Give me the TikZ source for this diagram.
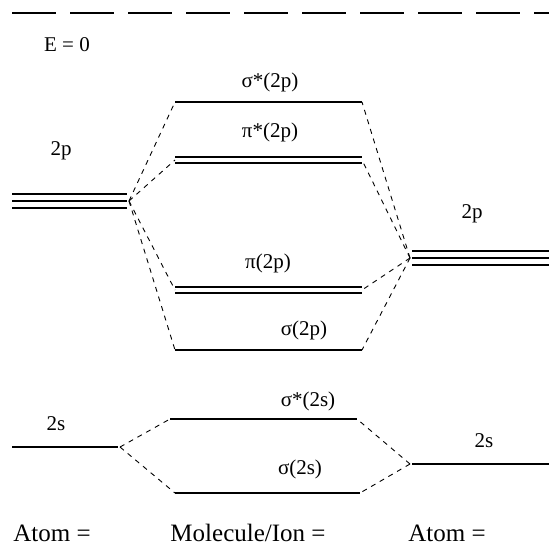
\documentclass[tikz,border=0pt]{standalone}
\usepackage{fontspec}
\setmainfont{Liberation Serif}
\usetikzlibrary{calc}

\begin{document}
\begin{tikzpicture}[x=1pt, y=-1pt, semithick]

%====Stili=====================================================================

	\tikzstyle{orbital}=[line width=1.6pt]
	\tikzstyle{corr}=[line width=0.9pt, dash pattern=on 5pt off 5pt]
	\tikzstyle{zero}=[line width=1.8pt, dash pattern=on 44pt off 14pt]
	\tikzstyle{lab}=[inner sep=0pt, font=\fontsize{21}{25}\selectfont]
	\tikzstyle{foot}=[inner sep=0pt, font=\fontsize{25}{30}\selectfont]

	\useasboundingbox (0,0) rectangle (549,550);

%====Estremi dei livelli========================================================

	\coordinate (E0L) at (12,13);   \coordinate (E0R) at (549,13);
	% atomo sinistro
	\coordinate (A2pL) at (12,201);  \coordinate (A2pR) at (127,201);  \coordinate (A2pH) at (129,201);
	\coordinate (A2sL) at (12,447);  \coordinate (A2sR) at (118,447);  \coordinate (A2sH) at (120,447);
	% atomo destro
	\coordinate (B2pL) at (412,258); \coordinate (B2pR) at (549,258);  \coordinate (B2pH) at (410,258);
	\coordinate (B2sL) at (412,464); \coordinate (B2sR) at (549,464);  \coordinate (B2sH) at (410,464);
	% molecola
	\coordinate (SxpL) at (175,102); \coordinate (SxpR) at (362,102);
	\coordinate (PxpL) at (175,160); \coordinate (PxpR) at (362,160);
	\coordinate (PpL)  at (175,290); \coordinate (PpR)  at (362,290);
	\coordinate (SpL)  at (175,350); \coordinate (SpR)  at (362,350);
	\coordinate (SxsL) at (170,419); \coordinate (SxsR) at (357,419);
	\coordinate (SsL)  at (175,493); \coordinate (SsR)  at (360,493);

%====Livelli====================================================================

	\draw[zero] (E0L) -- (E0R);
	\foreach \d in {-7,0,7} {
		\draw[orbital] ($(A2pL)+(0,\d)$) -- ($(A2pR)+(0,\d)$);
		\draw[orbital] ($(B2pL)+(0,\d)$) -- ($(B2pR)+(0,\d)$);
	}
	\foreach \d in {-3,3} {
		\draw[orbital] ($(PxpL)+(0,\d)$) -- ($(PxpR)+(0,\d)$);
		\draw[orbital] ($(PpL)+(0,\d)$) -- ($(PpR)+(0,\d)$);
	}
	\draw[orbital] (SxpL) -- (SxpR);
	\draw[orbital] (SpL) -- (SpR);
	\draw[orbital] (SxsL) -- (SxsR);
	\draw[orbital] (SsL) -- (SsR);
	\draw[orbital] (A2sL) -- (A2sR);
	\draw[orbital] (B2sL) -- (B2sR);

%====Collegamenti===============================================================

	\foreach \m in {SxpL, PxpL, PpL, SpL}  \draw[corr] (A2pH) -- (\m);
	\foreach \m in {SxpR, PxpR, PpR, SpR}  \draw[corr] (B2pH) -- (\m);
	\foreach \m in {SxsL, SsL}  \draw[corr] (A2sH) -- (\m);
	\foreach \m in {SxsR, SsR}  \draw[corr] (B2sH) -- (\m);

%====Etichette==================================================================

	\node[lab] (e0)    at (67,45)   {E = 0};
	\node[lab] (la2p)  at (61,151)  {2p};
	\node[lab] (lb2p)  at (472,214) {2p};
	\node[lab] (la2s)  at (56,424)  {2s};
	\node[lab] (lb2s)  at (484,441) {2s};
	\node[lab] (lsxp)  at (270,82)  {σ*(2p)};
	\node[lab] (lpxp)  at (270,132) {π*(2p)};
	\node[lab] (lpp)   at (268,263) {π(2p)};
	\node[lab] (lsp)   at (304,330) {σ(2p)};
	\node[lab] (lsxs)  at (308,401) {σ*(2s)};
	\node[lab] (lss)   at (300,469) {σ(2s)};

	\node[foot] (fa)   at (52,533)  {Atom =};
	\node[foot] (fm)   at (248,533) {Molecule/Ion =};
	\node[foot] (fb)   at (447,533) {Atom =};

\end{tikzpicture}
\end{document}
